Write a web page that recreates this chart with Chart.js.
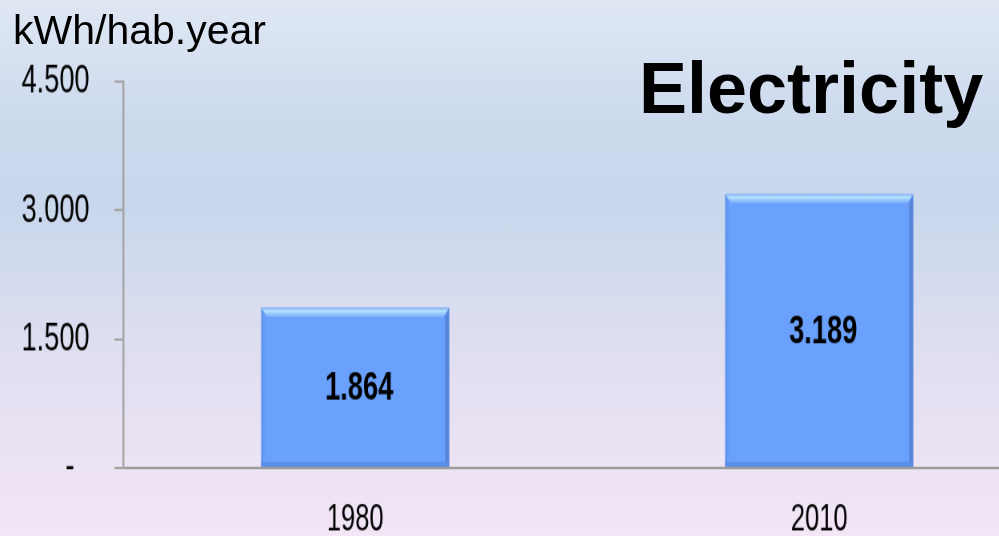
<!DOCTYPE html>
<html>
<head>
<meta charset="utf-8">
<script src="https://cdn.jsdelivr.net/npm/chart.js@4"></script>
<style>
  html, body { margin: 0; padding: 0; }
  body {
    width: 999px; height: 536px; overflow: hidden; position: relative;
    background: linear-gradient(#dfe7f3 0%, #cddaee 22%, #c8d7ec 38%, #d9ddef 58%, #e7e1f2 78%, #f3e6f6 100%);
  }
  /* texto estrecho y alto como en el original */
  #wrap { position: absolute; left: 0; top: 0; transform: scale(0.8, 1.2); transform-origin: 0 0; }
  .unit { position: absolute; left: 13px; top: 10px; font: 41px/41px "Liberation Sans", Arial, sans-serif; color: #000; }
  .title { position: absolute; left: 639px; top: 52px; font: bold 72px/72px "Liberation Sans", Arial, sans-serif; color: #000; }
</style>
</head>
<body>
<div id="wrap"><canvas id="chart_elec" width="1315" height="447"></canvas></div>
<div class="unit">kWh/hab.year</div>
<div class="title">Electricity</div>
<script>
// Consumo eléctrico por habitante
const categories = ['1980', '2010'];
const consumption = [1864, 3189];
const valueLabels = ['1.864', '3.189'];
const yTicks = [0, 1500, 3000, 4500];
const yTickLabels = ['-', '1.500', '3.000', '4.500'];

const fontFam = '"Liberation Sans", Arial, sans-serif';

// Relieve de las barras + etiqueta del valor
const bevelPlugin = {
    id: 'bevel',
    afterDatasetsDraw(chart) {
        const ctx = chart.ctx;
        const meta = chart.getDatasetMeta(0);
        meta.data.forEach((el, i) => {
            const x0 = el.x - el.width / 2, x1 = el.x + el.width / 2;
            const y0 = el.y, y1 = el.base;
            const b = 8;
            ctx.save();
            // borde superior claro
            const g = ctx.createLinearGradient(0, y0, 0, y0 + b);
            g.addColorStop(0, '#86aef0');
            g.addColorStop(0.3, '#b4e6ff');
            g.addColorStop(1, '#74a6fb');
            ctx.fillStyle = g;
            ctx.beginPath();
            ctx.moveTo(x0, y0); ctx.lineTo(x1, y0); ctx.lineTo(x1 - b, y0 + b); ctx.lineTo(x0 + b, y0 + b);
            ctx.closePath(); ctx.fill();
            // lado derecho oscuro
            ctx.fillStyle = '#5685d8';
            ctx.beginPath();
            ctx.moveTo(x1, y0); ctx.lineTo(x1, y1); ctx.lineTo(x1 - 5, y1 - 4); ctx.lineTo(x1 - 5, y0 + b);
            ctx.closePath(); ctx.fill();
            // lado izquierdo
            ctx.fillStyle = '#6398f0';
            ctx.beginPath();
            ctx.moveTo(x0, y0); ctx.lineTo(x0, y1); ctx.lineTo(x0 + 4, y1 - 3); ctx.lineTo(x0 + 4, y0 + b);
            ctx.closePath(); ctx.fill();
            // base
            ctx.fillStyle = '#5b8ee6';
            ctx.fillRect(x0, y1 - 4, x1 - x0, 4);
            // valor
            ctx.fillStyle = '#000';
            ctx.font = 'bold 34px ' + fontFam;
            ctx.textAlign = 'center';
            ctx.textBaseline = 'middle';
            ctx.fillText(valueLabels[i], el.x + 5, (y0 + y1) / 2 + 1);
            ctx.restore();
        });
    }
};

const ctxElec = document.getElementById('chart_elec').getContext('2d');
const chartElec = new Chart(ctxElec, {
    type: 'bar',
    data: {
        labels: categories,
        datasets: [{
            data: consumption,
            backgroundColor: '#6aa1fc',
            borderWidth: 0,
            barPercentage: 0.405,
            categoryPercentage: 1
        }]
    },
    options: {
        responsive: false,
        animation: false,
        layout: { padding: { top: 68, right: 1, left: 0, bottom: 0 } },
        plugins: { legend: { display: false }, tooltip: { enabled: false } },
        scales: {
            x: {
                grid: { display: false },
                border: { display: true, color: '#9c9c9c', width: 2 },
                ticks: { color: '#000', font: { family: fontFam, size: 32 }, padding: 16 },
                afterFit: (s) => { s.height = 57; }
            },
            y: {
                min: 0,
                max: 4500,
                afterBuildTicks: (s) => { s.ticks = yTicks.map(v => ({ value: v })); },
                grid: { drawOnChartArea: false, tickLength: 11, color: '#a6a6a6', lineWidth: 2 },
                border: { display: true, color: '#a6a6a6', width: 2.5 },
                ticks: {
                    color: '#000',
                    font: { family: fontFam, size: 34 },
                    padding: 31,
                    callback: (v, i) => (i === 0 ? yTickLabels[i] + '  ' : yTickLabels[i])
                },
                afterFit: (s) => { s.width = 154; }
            }
        }
    },
    plugins: [bevelPlugin]
});
</script>
</body>
</html>
